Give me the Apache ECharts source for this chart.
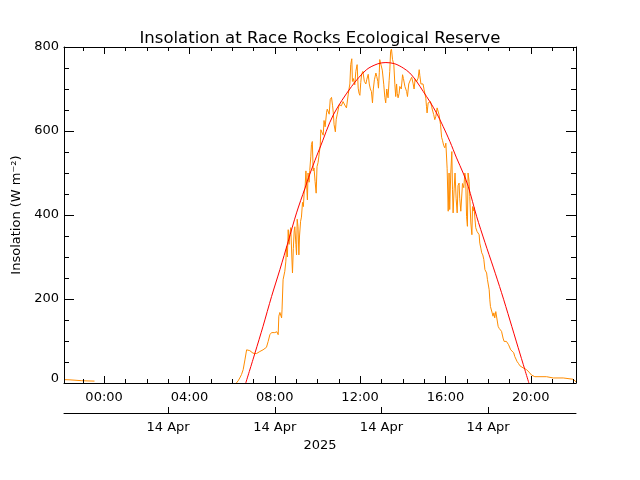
<!DOCTYPE html>
<html><head><meta charset="utf-8">
<script src="https://cdn.jsdelivr.net/npm/echarts@6/dist/echarts.min.js"></script>
<style>html,body{margin:0;padding:0;background:#fff}#c{width:640px;height:480px}</style>
</head><body><div id="c"></div>
<script>
// ---- data (time in hours of 14 Apr 2025, insolation in W m^-2) ----
const hours = [
-1.88,-1.6,-1.05,-0.8,-0.45,-0.42,6.2,6.28,6.36,6.44,6.52,6.60,6.68,6.75,6.83,6.98,7.14,7.30,7.45,7.61,7.69,7.77,7.85,8.00,8.10,8.16,8.19,8.24,8.32,8.34,8.39,8.47,8.52,8.55,8.59,8.63,8.67,8.70,8.75,8.80,8.83,8.87,8.91,8.94,8.99,9.02,9.05,9.09,9.13,9.16,9.21,9.25,9.30,9.34,9.38,9.42,9.46,9.49,9.53,9.56,9.61,9.64,9.69,9.72,9.76,9.80,9.84,9.89,9.94,9.98,10.03,10.08,10.13,10.16,10.20,10.27,10.31,10.36,10.43,10.46,10.50,10.55,10.60,10.66,10.71,10.74,10.78,10.84,10.88,10.93,10.97,11.02,11.05,11.12,11.20,11.28,11.36,11.44,11.48,11.52,11.56,11.61,11.64,11.68,11.75,11.80,11.86,11.91,11.95,11.99,12.03,12.07,12.13,12.20,12.27,12.31,12.38,12.43,12.48,12.53,12.58,12.62,12.67,12.74,12.78,12.83,12.86,12.90,12.92,12.98,13.04,13.11,13.16,13.20,13.25,13.31,13.36,13.39,13.43,13.47,13.52,13.58,13.63,13.67,13.71,13.74,13.78,13.83,13.86,13.93,13.99,14.03,14.10,14.18,14.22,14.28,14.36,14.42,14.48,14.53,14.58,14.64,14.72,14.77,14.80,14.85,14.89,14.95,15.00,15.05,15.08,15.11,15.14,15.19,15.23,15.30,15.35,15.39,15.45,15.50,15.55,15.61,15.66,15.70,15.77,15.82,15.86,15.92,15.97,16.02,16.08,16.13,16.17,16.20,16.25,16.30,16.33,16.36,16.41,16.45,16.50,16.55,16.59,16.64,16.67,16.72,16.77,16.80,16.86,16.91,16.95,16.99,17.03,17.06,17.11,17.14,17.19,17.24,17.27,17.31,17.34,17.38,17.42,17.48,17.53,17.58,17.61,17.66,17.70,17.75,17.80,17.85,17.93,17.97,18.00,18.05,18.08,18.11,18.15,18.19,18.23,18.27,18.31,18.36,18.41,18.47,18.52,18.58,18.63,18.70,18.75,18.81,18.86,18.91,18.96,19.02,19.06,19.14,19.20,19.25,19.30,19.36,19.43,19.49,19.57,19.64,19.72,19.80,19.88,19.95,20.03,20.11,20.19,20.74,21.05,21.52,21.60,21.98,22.06,22.12
];
const insolation = [
8,7.5,5.5,5,4.5,null,0,5,12,20,32,55,79,81,77,71,70,75,79,85,99,115,120,120,122,115,159,168,155,174,246,266,290,325,300,365,330,350,370,300,262,320,362,372,330,305,390,372,305,350,385,395,430,420,455,465,505,475,436,500,478,506,540,568,575,505,512,480,452,515,525,545,565,603,598,590,625,610,645,652,656,640,675,680,660,645,615,598,628,640,650,663,667,660,670,662,655,686,700,712,758,772,718,725,710,742,758,702,690,685,715,735,742,718,712,722,735,712,700,694,667,700,722,738,730,718,702,740,770,774,745,710,680,667,700,679,720,742,790,795,770,758,710,682,712,690,679,690,706,700,734,725,706,694,682,712,722,728,714,700,724,717,726,746,732,712,710,712,698,686,678,659,643,667,663,670,659,650,639,627,635,655,659,639,615,585,578,565,560,571,510,409,500,413,500,551,460,405,464,500,440,405,470,476,440,409,405,475,465,500,485,397,373,500,480,444,381,353,420,410,418,393,370,361,365,353,333,321,310,305,294,270,262,246,246,222,198,182,178,167,159,167,155,170,166,135,130,133,123,107,99,101,99,101,91,87,79,75,72,63,60,51,46,41,40,36,33,32,28,24,19,16,15,15,12,12,9,9,6,3
];
const clearSkyHours = [6.64,7.07,7.45,7.85,8.24,8.63,9.02,9.41,9.64,9.96,10.11,10.74,11.6,12.3,12.83,13.21,13.63,14.02,14.33,14.65,14.96,15.27,15.58,15.89,16.21,16.52,16.83,17.07,17.46,17.85,18.24,18.63,19.02,19.41,19.72,19.91];
const clearSky = [0,71,135,206,270,337,405,463,497,540,559,638,706,746,760,763,760,750,738,718,694,670,643,611,575,536,500,468,397,335,276,215,150,84,32,0];
const majorTickHours = [0,4,8,12,16,20];
const minorTickHours = [-1,1,2,3,5,6,7,9,10,11,13,14,15,17,18,19,21,22];
const dateTickHours = [3,8,13,18];
const dateLabel = '14 Apr';
const yearLabel = '2025';
const titleText = 'Insolation at Race Rocks Ecological Reserve';
const yName = 'Insolation (W m\u207B\u00B2)';
const X_MIN = -1.88, X_MAX = 22.12;
const Y_MIN = 0, Y_MAX = 800, Y_STEP = 200;

const FONT = 'DejaVu Sans';
const BLACK = '#000';
const chart = echarts.init(document.getElementById('c'), null, {renderer: 'canvas'});

function xAx(opts) {
  return Object.assign({
    type: 'value', gridIndex: 0, min: X_MIN, max: X_MAX, z: 5,
    axisLine: {show: false, onZero: false, lineStyle: {color: BLACK, width: 1}},
    axisTick: {show: false},
    axisLabel: {show: false},
    splitLine: {show: false}
  }, opts);
}
const ticks = (vals, len) => ({show: true, inside: true, length: len, customValues: vals, lineStyle: {color: BLACK, width: 1}});

const option = {
  animation: false,
  backgroundColor: '#fff',
  title: {
    text: titleText, left: 'center', top: 25,
    textStyle: {fontFamily: FONT, fontSize: 16.5, fontWeight: 'normal', color: BLACK}
  },
  grid: {left: 64, right: 64, top: 47, bottom: 97, containLabel: false},
  xAxis: [
    xAx({position: 'bottom',
      axisLine: {show: true, onZero: false, lineStyle: {color: BLACK, width: 1}},
      axisTick: ticks(majorTickHours, 7),
      axisLabel: {show: true, customValues: majorTickHours, margin: 8, color: BLACK, fontFamily: FONT, fontSize: 13,
        formatter: v => String(v).padStart(2, '0') + ':00'}
    }),
    xAx({position: 'bottom', axisTick: ticks(minorTickHours, 4)}),
    xAx({position: 'top',
      axisLine: {show: true, onZero: false, lineStyle: {color: BLACK, width: 1}},
      axisTick: ticks(majorTickHours, 7)}),
    xAx({position: 'top', axisTick: ticks(minorTickHours, 4)}),
    xAx({position: 'bottom', offset: 30,
      axisLine: {show: true, onZero: false, lineStyle: {color: BLACK, width: 1}},
      axisTick: ticks(dateTickHours, 6),
      axisLabel: {show: true, customValues: dateTickHours, margin: 8, color: BLACK, fontFamily: FONT, fontSize: 13,
        formatter: () => dateLabel},
      name: yearLabel, nameLocation: 'middle', nameGap: 21,
      nameTextStyle: {color: BLACK, fontFamily: FONT, fontSize: 13}
    })
  ],
  yAxis: [
    {type: 'value', gridIndex: 0, position: 'left', min: Y_MIN, max: Y_MAX, interval: Y_STEP, z: 5,
      axisLine: {show: true, onZero: false, lineStyle: {color: BLACK, width: 1}},
      axisTick: {show: true, inside: true, length: 10, lineStyle: {color: BLACK, width: 1}},
      minorTick: {show: true, splitNumber: 4, length: 5, lineStyle: {color: BLACK, width: 1}},
      axisLabel: {show: true, margin: 5, color: BLACK, fontFamily: FONT, fontSize: 13,
        formatter: v => v === 0 ? '{z|0}' : String(v),
        rich: {z: {padding: [0, 0, 8, 0], color: BLACK, fontFamily: FONT, fontSize: 13}}},
      splitLine: {show: false},
      name: yName, nameLocation: 'middle', nameRotate: 90, nameGap: 34,
      nameTextStyle: {color: BLACK, fontFamily: FONT, fontSize: 13}
    },
    {type: 'value', gridIndex: 0, position: 'right', min: Y_MIN, max: Y_MAX, interval: Y_STEP, z: 5,
      axisLine: {show: true, onZero: false, lineStyle: {color: BLACK, width: 1}},
      axisTick: {show: true, inside: true, length: 10, lineStyle: {color: BLACK, width: 1}},
      minorTick: {show: true, splitNumber: 4, length: 5, lineStyle: {color: BLACK, width: 1}},
      axisLabel: {show: false},
      splitLine: {show: false}
    }
  ],
  series: [
    {type: 'line', xAxisIndex: 0, yAxisIndex: 0, showSymbol: false, symbol: 'none', connectNulls: false,
      data: hours.map((h, i) => [h, insolation[i]]),
      lineStyle: {color: '#FF8C00', width: 1}, itemStyle: {color: '#FF8C00'}, z: 2},
    {type: 'line', xAxisIndex: 0, yAxisIndex: 0, showSymbol: false, symbol: 'none', smooth: 0.3,
      data: clearSkyHours.map((h, i) => [h, clearSky[i]]),
      lineStyle: {color: '#FF0000', width: 1}, itemStyle: {color: '#FF0000'}, z: 3}
  ]
};
chart.setOption(option);
</script></body></html>
